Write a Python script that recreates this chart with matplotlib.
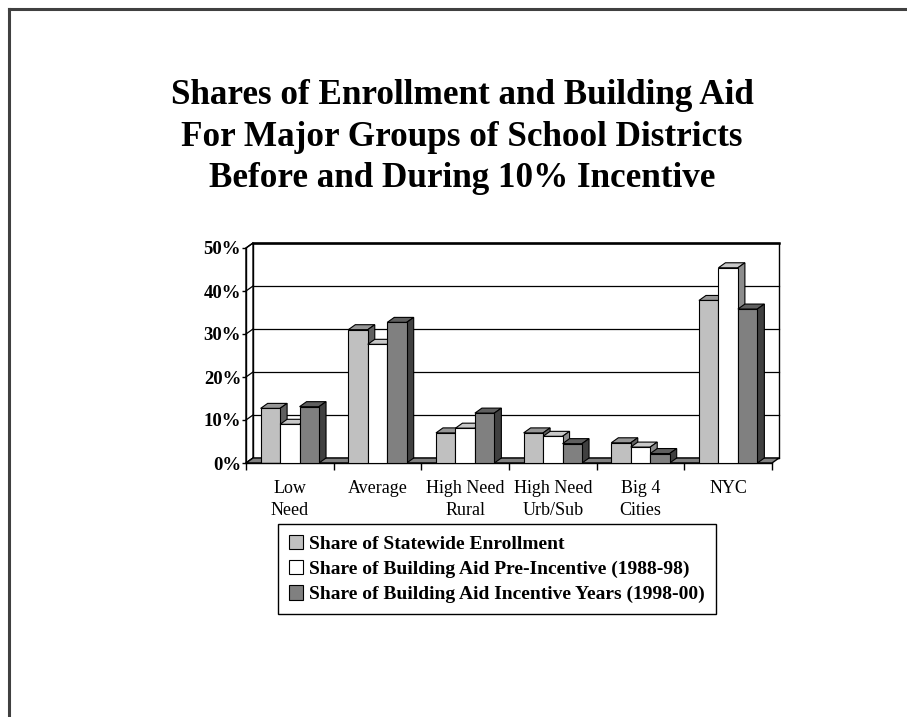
import matplotlib
matplotlib.use("Agg")
import matplotlib.pyplot as plt
from matplotlib.patches import Polygon, Patch
from matplotlib.lines import Line2D

# ---- data ----
categories = ["Low\nNeed", "Average", "High Need\nRural", "High Need\nUrb/Sub", "Big 4\nCities", "NYC"]
series_names = ["Share of Statewide Enrollment",
                "Share of Building Aid Pre-Incentive (1988-98)",
                "Share of Building Aid Incentive Years (1998-00)"]
enrollment = [12.7, 31.0, 7.0, 7.0, 4.7, 37.8]
pre_incentive = [9.0, 27.6, 8.1, 6.2, 3.7, 45.4]
incentive = [13.1, 32.7, 11.6, 4.5, 2.2, 35.8]
yticks = [0, 10, 20, 30, 40, 50]

front_colors = ["#C0C0C0", "#FFFFFF", "#808080"]
top_colors = ["#969696", "#C8C8C8", "#5F5F5F"]
side_colors = ["#606060", "#8C8C8C", "#404040"]

serif = ["Liberation Serif", "DejaVu Serif"]

W, H = 907, 717
fig = plt.figure(figsize=(W / 100, H / 100), dpi=100)

# page frame (top and left lines)
fig.add_artist(Line2D([9 / W, 9 / W], [0, 1 - 9 / H], transform=fig.transFigure,
                      color="#404040", lw=2.2))
fig.add_artist(Line2D([9 / W, 1], [1 - 9 / H, 1 - 9 / H], transform=fig.transFigure,
                      color="#404040", lw=2.2))

# title
fig.text(462 / W, 1 - 137 / H,
         "Shares of Enrollment and Building Aid\nFor Major Groups of School Districts\nBefore and During 10% Incentive",
         ha="center", va="center", fontsize=25.3, fontweight="bold", family=serif,
         linespacing=1.33)

# axes = front plane of the 3D chart
x0, x1, yb, yt = 246, 772, 463, 248
ax = fig.add_axes([x0 / W, 1 - yb / H, (x1 - x0) / W, (yb - yt) / H])
n = len(categories)
ax.set_xlim(-0.5, n - 0.5)
ax.set_ylim(0, 50)
ax.set_facecolor("none")

px_x = (x1 - x0) / n          # px per category unit
px_y = (yb - yt) / 50.0       # px per percent
dx = 7 / px_x                 # depth offset in data units
dy = 5 / px_y

ax.spines["top"].set_visible(False)
ax.spines["right"].set_visible(False)
ax.spines["left"].set_color("black")
ax.spines["bottom"].set_color("black")
ax.spines["left"].set_linewidth(1.0)
ax.spines["bottom"].set_linewidth(1.0)

# back wall
xl, xr = -0.5, n - 0.5
wall = Polygon([(xl + dx, dy), (xr + dx, dy), (xr + dx, 50 + dy), (xl + dx, 50 + dy)],
               closed=True, facecolor="white", edgecolor="black", lw=1.0, zorder=0.5,
               clip_on=False)
ax.add_patch(wall)
# left wall
lwall = Polygon([(xl, 0), (xl + dx, dy), (xl + dx, 50 + dy), (xl, 50)], closed=True,
                facecolor="white", edgecolor="black", lw=1.0, zorder=0.6, clip_on=False)
ax.add_patch(lwall)
for t in yticks:
    ax.plot([xl + dx, xr + dx], [t + dy, t + dy], color="black", lw=0.9, zorder=0.7,
            clip_on=False)
    ax.plot([xl, xl + dx], [t, t + dy], color="black", lw=0.9, zorder=0.7, clip_on=False)
# top edge of wall heavier
ax.plot([xl + dx, xr + dx], [50 + dy, 50 + dy], color="black", lw=1.8, zorder=0.8,
        clip_on=False)

# floor
floor = Polygon([(xl, 0), (xr, 0), (xr + dx, dy), (xl + dx, dy)], closed=True,
                facecolor="#808080", edgecolor="black", lw=1.0, zorder=1, clip_on=False)
ax.add_patch(floor)

# bars
series = [enrollment, pre_incentive, incentive]
bw = 0.222
z = 2
for i in range(n):
    for j, vals in enumerate(series):
        h = vals[i]
        left = i - 1.5 * bw + j * bw
        right = left + bw
        ax.bar(left, h, width=bw, align="edge", color=front_colors[j], edgecolor="black",
               lw=0.8, zorder=z + 0.2)
        top = Polygon([(left, h), (right, h), (right + dx, h + dy), (left + dx, h + dy)],
                      closed=True, facecolor=top_colors[j], edgecolor="black", lw=0.8,
                      zorder=z, clip_on=False)
        side = Polygon([(right, 0), (right + dx, dy), (right + dx, h + dy), (right, h)],
                       closed=True, facecolor=side_colors[j], edgecolor="black", lw=0.8,
                       zorder=z, clip_on=False)
        ax.add_patch(top)
        ax.add_patch(side)
        z += 1

# ticks
ax.set_yticks(yticks)
ax.set_yticklabels([f"{t}%" for t in yticks], fontsize=13.5, fontweight="bold", family=serif)
ax.tick_params(axis="y", direction="out", length=3, width=1, pad=0.5)
ax.set_xticks(range(n))
ax.set_xticklabels(categories, fontsize=13, family=serif, linespacing=1.42)
ax.set_xticks([k - 0.5 for k in range(n + 1)], minor=True)
ax.tick_params(axis="x", which="major", length=0, pad=12)
ax.tick_params(axis="x", which="minor", direction="out", length=5, width=1)

# legend
handles = [Patch(facecolor=c, edgecolor="black", lw=0.8) for c in front_colors]
leg = fig.legend(handles, series_names, loc="upper left",
                 bbox_to_anchor=(278 / W, 1 - 524 / H),
                 prop={"family": serif, "weight": "bold", "size": 14.0},
                 frameon=True, fancybox=False, edgecolor="black", framealpha=1,
                 handlelength=0.75, handleheight=0.75, handletextpad=0.3,
                 labelspacing=0.38, borderpad=0.55, borderaxespad=0)
leg.get_frame().set_linewidth(1.0)

fig.savefig("out.png", dpi=100)
